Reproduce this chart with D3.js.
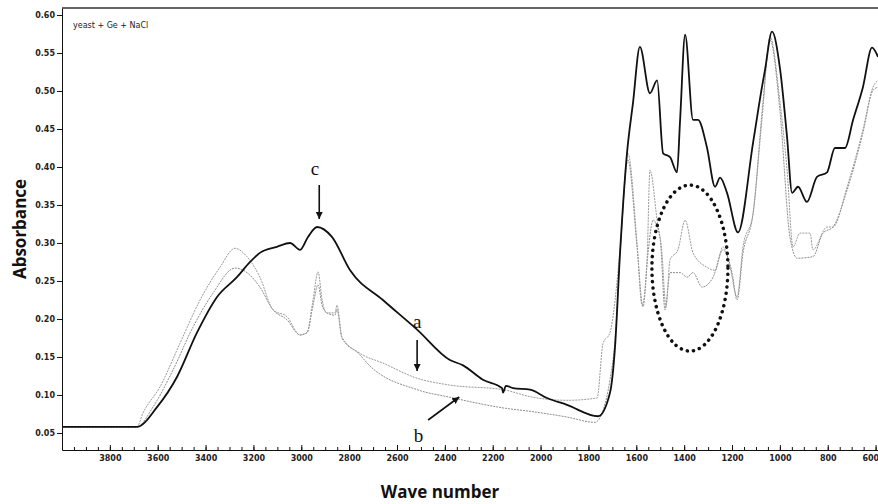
<!DOCTYPE html>
<html>
<head>
<meta charset="utf-8">
<script src="https://cdn.jsdelivr.net/npm/d3@7"></script>
<style>
  body { margin: 0; background: #fff; }
  .axis text { font-family: "DejaVu Sans", sans-serif; font-size: 8px; font-weight: bold; fill: #222; }
  .axis path, .axis line { stroke: #111; }
  .label { font-family: "Open Sans", "DejaVu Sans", sans-serif; font-weight: bold; font-size: 17px; fill: #111; }
  .note { font-family: "Liberation Serif", serif; font-size: 19px; fill: #111; }
</style>
</head>
<body>
<div class="graph"></div>
<script>
// wave number (cm-1) / absorbance pairs
var seriesC = [
  [4000,0.058],[3687,0.058],[3603,0.084],[3519,0.124],[3436,0.182],[3352,0.229],[3269,0.255],
  [3214,0.275],[3173,0.287],[3102,0.295],[3047,0.300],[3005,0.291],[2972,0.308],[2934,0.321],
  [2872,0.308],[2796,0.264],[2659,0.225],[2516,0.186],[2379,0.146],[2324,0.139],[2241,0.120],
  [2161,0.109],[2157,0.103],[2145,0.112],[2115,0.109],[2044,0.107],[1973,0.096],[1890,0.087],
  [1760,0.072],[1710,0.103],[1689,0.163],[1668,0.287],[1639,0.418],[1614,0.484],[1585,0.558],
  [1543,0.497],[1513,0.514],[1488,0.418],[1459,0.413],[1430,0.393],[1417,0.462],[1396,0.574],
  [1363,0.462],[1342,0.462],[1305,0.426],[1271,0.374],[1250,0.386],[1221,0.366],[1175,0.314],
  [1112,0.432],[1075,0.505],[1062,0.528],[1033,0.578],[999,0.528],[970,0.439],[949,0.366],
  [924,0.374],[887,0.354],[845,0.387],[803,0.393],[770,0.425],[728,0.425],[694,0.462],
  [653,0.505],[615,0.557],[590,0.545]
];

var seriesA = [
  [4000,0.058],[3687,0.058],[3662,0.076],[3590,0.111],[3507,0.168],[3423,0.225],[3340,0.268],
  [3277,0.293],[3227,0.282],[3173,0.255],[3118,0.212],[3060,0.203],[3005,0.179],[2976,0.182],
  [2951,0.225],[2930,0.262],[2913,0.225],[2893,0.208],[2859,0.208],[2851,0.218],[2830,0.176],
  [2755,0.155],[2659,0.142],[2516,0.122],[2379,0.113],[2157,0.107],[2032,0.097],[1890,0.093],
  [1764,0.096],[1739,0.168],[1710,0.182],[1668,0.291],[1635,0.418],[1597,0.300],[1576,0.218],
  [1555,0.278],[1543,0.396],[1513,0.330],[1493,0.287],[1476,0.216],[1459,0.278],[1426,0.291],
  [1396,0.330],[1363,0.287],[1305,0.268],[1271,0.264],[1238,0.295],[1208,0.268],[1179,0.229],
  [1154,0.295],[1112,0.339],[1075,0.462],[1041,0.571],[999,0.484],[970,0.396],[945,0.295],
  [916,0.313],[874,0.313],[862,0.291],[803,0.321],[778,0.321],[719,0.374],[653,0.449],
  [611,0.505],[590,0.514]
];

var seriesB = [
  [4000,0.058],[3687,0.058],[3620,0.084],[3536,0.133],[3453,0.189],[3369,0.234],[3277,0.267],
  [3227,0.261],[3173,0.242],[3118,0.212],[3060,0.199],[3005,0.179],[2976,0.182],[2951,0.218],
  [2930,0.245],[2913,0.218],[2893,0.208],[2859,0.205],[2851,0.213],[2830,0.175],[2755,0.153],
  [2725,0.142],[2516,0.107],[2379,0.097],[2157,0.083],[2032,0.078],[1890,0.071],[1773,0.064],
  [1739,0.080],[1710,0.120],[1689,0.172],[1668,0.284],[1635,0.409],[1597,0.295],[1572,0.216],
  [1551,0.287],[1530,0.330],[1501,0.308],[1480,0.212],[1459,0.261],[1417,0.261],[1388,0.255],
  [1363,0.261],[1325,0.242],[1279,0.255],[1238,0.291],[1200,0.261],[1179,0.225],[1154,0.287],
  [1112,0.339],[1071,0.484],[1041,0.567],[999,0.471],[958,0.308],[928,0.280],[862,0.282],
  [820,0.313],[778,0.321],[719,0.370],[653,0.445],[611,0.501],[590,0.505]
];

var xTicks = d3.range(3800, 599, -200);
var yTicks = [0.05,0.10,0.15,0.20,0.25,0.30,0.35,0.40,0.45,0.50,0.55,0.60];

var width = 878, height = 504;

var x = d3.scaleLinear().domain([4000, 590]).range([62, 878]);
var y = d3.scaleLinear().domain([0.0276, 0.6092]).range([450, 8]);

var svg = d3.select(".graph").append("svg")
    .attr("width", width)
    .attr("height", height);

// minor ticks along the bottom
svg.append("g")
    .attr("class", "axis")
    .attr("transform", "translate(0,450)")
    .call(d3.axisBottom(x).tickValues(d3.range(3950, 590, -50)).tickSize(-3).tickFormat(""))
    .select(".domain").remove();

var xAxisG = svg.append("g")
    .attr("class", "axis")
    .attr("transform", "translate(0,450)")
    .call(d3.axisBottom(x).tickValues(xTicks).tickSize(-5).tickPadding(5).tickSizeOuter(0)
      .tickFormat(d3.format("d")));

// last label sits on the right edge
xAxisG.selectAll(".tick text")
    .filter(function(d) { return d === 600; })
    .attr("text-anchor", "end")
    .attr("dx", "3");

svg.append("g")
    .attr("class", "axis")
    .attr("transform", "translate(62,0)")
    .call(d3.axisLeft(y).tickValues(yTicks).tickSize(5).tickPadding(2).tickSizeOuter(0)
      .tickFormat(d3.format(".2f")));

// top frame line
svg.append("line")
    .attr("x1", 62).attr("x2", 878)
    .attr("y1", 8).attr("y2", 8)
    .style("stroke", "#333").style("stroke-width", 1.5);

var line = d3.line()
    .x(function(d) { return x(d[0]); })
    .y(function(d) { return y(d[1]); })
    .curve(d3.curveMonotoneX);

svg.append("path")
    .datum(seriesB)
    .attr("d", line)
    .style("fill", "none")
    .style("stroke", "#8c8c8c")
    .style("stroke-width", 1)
    .style("stroke-dasharray", "2,1");

svg.append("path")
    .datum(seriesA)
    .attr("d", line)
    .style("fill", "none")
    .style("stroke", "#9a9a9a")
    .style("stroke-width", 1)
    .style("stroke-dasharray", "2,1");

svg.append("path")
    .datum(seriesC)
    .attr("d", line)
    .style("fill", "none")
    .style("stroke", "#111")
    .style("stroke-width", 1.8)
    .style("stroke-linejoin", "round");

svg.append("text")
    .attr("x", 73).attr("y", 28)
    .style("font-family", "DejaVu Sans, sans-serif")
    .style("font-size", "8px")
    .style("fill", "#222")
    .text("yeast + Ge + NaCl");

svg.append("text")
    .attr("class", "label")
    .attr("transform", "translate(26,229) rotate(-90)")
    .attr("text-anchor", "middle")
    .text("Absorbance");

svg.append("text")
    .attr("class", "label")
    .attr("x", 440).attr("y", 498)
    .attr("text-anchor", "middle")
    .text("Wave number");

// annotations
var defs = svg.append("defs");
defs.append("marker")
    .attr("id", "head")
    .attr("viewBox", "0 0 10 10")
    .attr("refX", 10).attr("refY", 5)
    .attr("markerWidth", 7).attr("markerHeight", 7)
    .attr("markerUnits", "userSpaceOnUse")
    .attr("orient", "auto")
  .append("path")
    .attr("d", "M0,0L10,5L0,10Z")
    .style("fill", "#111");

function arrow(x1, y1, x2, y2) {
  svg.append("line")
      .attr("x1", x1).attr("y1", y1)
      .attr("x2", x2).attr("y2", y2)
      .style("stroke", "#111")
      .style("stroke-width", 1.6)
      .attr("marker-end", "url(#head)");
}

svg.append("text").attr("class", "note").attr("x", x(2943)).attr("y", 175)
    .attr("text-anchor", "middle").text("c");
arrow(x(2925), 185, x(2925), 219);

svg.append("text").attr("class", "note").attr("x", x(2516)).attr("y", 328)
    .attr("text-anchor", "middle").text("a");
arrow(x(2516), 340, x(2516), 371);

svg.append("text").attr("class", "note").attr("x", x(2510)).attr("y", 442)
    .attr("text-anchor", "middle").text("b");
arrow(x(2470), 420, x(2340), 397);

svg.append("ellipse")
    .attr("cx", x(1376)).attr("cy", y(0.267))
    .attr("rx", 38).attr("ry", 83)
    .style("fill", "none")
    .style("stroke", "#111")
    .style("stroke-width", 3.5)
    .style("stroke-linecap", "round")
    .style("stroke-dasharray", "0.1,6.2");
</script>
</body>
</html>
